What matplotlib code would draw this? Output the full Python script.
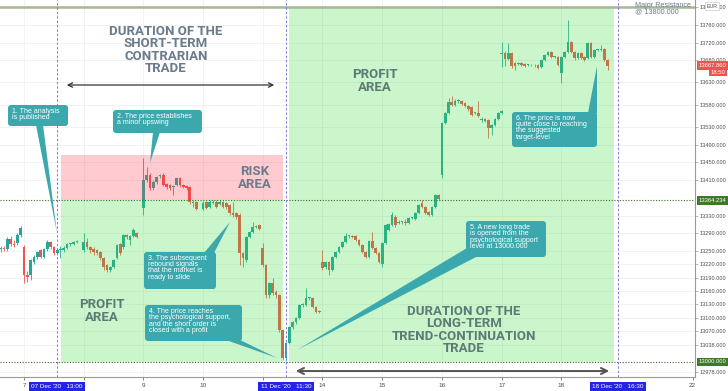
import matplotlib
matplotlib.use("Agg")
import numpy as np
import matplotlib.pyplot as plt
from matplotlib.patches import FancyBboxPatch, Polygon, Rectangle
from matplotlib.transforms import Affine2D

# Germany 30 (EUR), 30-minute candles, 4 Dec - 18 Dec 2020
opens = [
    13255, 13257, 13255, 13277, 13266, 13268, 13286,
    13259, 13196, 13196, 13226, 13237, 13252, 13237, 13255, 13271, 13259,
    13246, 13252, 13252, 13257, 13266, 13266, 13271,
    13252, 13271, 13259, 13255, 13252, 13248, 13235, 13219, 13208, 13214,
    13235, 13266, 13259, 13286, 13275, 13284, 13291,
    13347, 13410, 13422, 13392, 13406, 13420, 13422, 13401, 13399, 13395,
    13399, 13415, 13399, 13397, 13395, 13361, 13361,
    13345, 13361, 13350, 13359, 13361, 13356, 13361, 13359, 13354, 13336,
    13336, 13331, 13246, 13230, 13282, 13293, 13304, 13309,
    13257, 13219, 13151, 13178, 13158, 13151, 13072, 13009, 13043, 13079,
    13090, 13099, 13129, 13129, 13144, 13144, 13124, 13115,
    13226, 13214, 13226, 13208, 13237, 13248, 13259, 13271, 13284, 13284,
    13284, 13275, 13264, 13248, 13237, 13273, 13257, 13246,
    13221, 13268, 13298, 13309, 13327, 13313, 13316, 13316, 13313, 13325,
    13322, 13336, 13359, 13350, 13338, 13331, 13350, 13376,
    13422, 13539, 13561, 13586, 13579, 13588, 13588, 13584, 13577, 13575,
    13561, 13561, 13546, 13548, 13546, 13528, 13534, 13548, 13561,
    13695, 13697, 13683, 13697, 13674, 13672, 13674, 13672, 13670, 13670,
    13669, 13670, 13665, 13681, 13692, 13699, 13688, 13688,
    13651, 13688, 13699, 13721, 13699, 13685, 13697, 13688, 13685, 13719,
    13688, 13703, 13703, 13706, 13681,
]
highs = [
    13262, 13262, 13282, 13284, 13275, 13291, 13306,
    13264, 13205, 13232, 13241, 13250, 13255, 13257, 13275, 13273, 13262,
    13257, 13262, 13262, 13268, 13268, 13273, 13275,
    13291, 13280, 13262, 13259, 13255, 13250, 13237, 13221, 13217, 13232,
    13266, 13268, 13289, 13289, 13286, 13302, 13293,
    13460, 13440, 13426, 13410, 13420, 13424, 13426, 13404, 13401, 13399,
    13417, 13417, 13401, 13399, 13397, 13365, 13363,
    13363, 13363, 13365, 13365, 13365, 13365, 13363, 13361, 13356, 13361,
    13338, 13336, 13248, 13284, 13295, 13316, 13309, 13311,
    13268, 13221, 13180, 13189, 13162, 13153, 13075, 13045, 13081, 13093,
    13102, 13131, 13133, 13167, 13147, 13147, 13126, 13117,
    13252, 13228, 13228, 13239, 13250, 13262, 13273, 13291, 13286, 13286,
    13286, 13277, 13266, 13250, 13275, 13293, 13259, 13248,
    13271, 13311, 13313, 13338, 13331, 13320, 13318, 13322, 13327, 13327,
    13338, 13356, 13365, 13352, 13340, 13352, 13379, 13379,
    13541, 13564, 13595, 13600, 13593, 13593, 13591, 13586, 13579, 13577,
    13564, 13588, 13552, 13550, 13548, 13537, 13550, 13564, 13568,
    13721, 13701, 13719, 13699, 13676, 13676, 13676, 13674, 13672, 13672,
    13672, 13672, 13683, 13694, 13701, 13701, 13690, 13690,
    13690, 13701, 13771, 13724, 13701, 13699, 13699, 13690, 13721, 13721,
    13706, 13706, 13715, 13708, 13683,
]
lows = [
    13248, 13250, 13250, 13262, 13259, 13264, 13282,
    13178, 13180, 13185, 13221, 13232, 13235, 13235, 13250, 13255, 13241,
    13241, 13235, 13248, 13255, 13262, 13264, 13268,
    13248, 13255, 13246, 13241, 13241, 13230, 13208, 13203, 13203, 13212,
    13232, 13241, 13255, 13277, 13264, 13282, 13280,
    13331, 13406, 13388, 13388, 13401, 13415, 13397, 13390, 13388, 13376,
    13397, 13395, 13392, 13388, 13356, 13350, 13343,
    13343, 13345, 13347, 13356, 13347, 13354, 13347, 13345, 13331, 13327,
    13322, 13219, 13214, 13226, 13280, 13291, 13302, 13298,
    13214, 13144, 13144, 13151, 13144, 13068, 13005, 13002, 13040, 13075,
    13086, 13097, 13124, 13126, 13140, 13122, 13111, 13111,
    13208, 13210, 13196, 13205, 13235, 13246, 13257, 13268, 13280, 13280,
    13273, 13262, 13246, 13235, 13235, 13255, 13244, 13224,
    13214, 13266, 13295, 13306, 13304, 13311, 13311, 13309, 13311, 13322,
    13320, 13334, 13347, 13334, 13329, 13329, 13347, 13365,
    13415, 13537, 13559, 13577, 13577, 13584, 13579, 13575, 13566, 13555,
    13559, 13552, 13541, 13541, 13505, 13512, 13532, 13546, 13559,
    13665, 13667, 13681, 13663, 13658, 13670, 13667, 13665, 13667, 13667,
    13665, 13660, 13663, 13679, 13690, 13685, 13685, 13667,
    13629, 13685, 13697, 13697, 13681, 13683, 13683, 13679, 13683, 13685,
    13685, 13701, 13701, 13679, 13658,
]
closes = [
    13257, 13255, 13277, 13266, 13264, 13286, 13302,
    13196, 13192, 13230, 13237, 13248, 13237, 13255, 13271, 13259, 13246,
    13252, 13255, 13257, 13266, 13266, 13271, 13273,
    13271, 13259, 13252, 13248, 13246, 13235, 13214, 13208, 13214, 13230,
    13264, 13246, 13286, 13282, 13284, 13298, 13282,
    13410, 13422, 13392, 13406, 13417, 13421, 13399, 13395, 13392, 13396,
    13415, 13399, 13395, 13392, 13361, 13359, 13345,
    13359, 13347, 13361, 13361, 13350, 13361, 13350, 13350, 13336, 13331,
    13327, 13246, 13235, 13282, 13293, 13304, 13306, 13300,
    13219, 13151, 13178, 13156, 13151, 13072, 13009, 13043, 13079, 13090,
    13099, 13129, 13131, 13144, 13145, 13124, 13113, 13113,
    13212, 13226, 13208, 13237, 13248, 13259, 13271, 13284, 13285, 13282,
    13275, 13264, 13248, 13237, 13273, 13257, 13246, 13226,
    13268, 13309, 13311, 13331, 13309, 13316, 13317, 13313, 13325, 13326,
    13336, 13354, 13350, 13336, 13331, 13350, 13376, 13368,
    13539, 13561, 13586, 13579, 13588, 13589, 13582, 13577, 13570, 13557,
    13562, 13555, 13548, 13543, 13528, 13534, 13548, 13561, 13566,
    13697, 13683, 13697, 13667, 13667, 13674, 13670, 13667, 13671, 13669,
    13670, 13663, 13681, 13692, 13699, 13688, 13689, 13670,
    13688, 13699, 13721, 13699, 13685, 13697, 13685, 13681, 13719, 13688,
    13703, 13704, 13706, 13681, 13667.86,
]

# "11" is hidden behind the 11 Dec badge on the original
day_labels = ["7", "8", "9", "10", "", "14", "15", "16", "17", "18"]
day_first_bar = [7, 24, 41, 58, 76, 94, 112, 130, 149, 167]
bars_per_day = 18  # 30-min bars from 08:00

resistance = 13800.0
support = 13000.0
entry_level = 13364.234
last_price = 13667.86

price_ticks = [13800, 13760, 13720, 13680, 13630, 13580, 13530, 13490, 13450,
               13410, 13330, 13290, 13250, 13220, 13190, 13160, 13130, 13100,
               13070, 13038, 12978]

UP = "#26a69a"
DOWN = "#ef5350"
TEAL = "#3ba8ad"
GREY_TXT = "#6a7b8b"
GREEN_TXT = "#5e7a76"
W, H = 728, 391

plt.rcParams["font.family"] = ["Liberation Sans", "DejaVu Sans"]

step = 1.0 / bars_per_day


def bar_pos(i):
    d = sum(1 for f in day_first_bar if f <= i) - 1
    if d < 0:
        return (i - day_first_bar[0]) * step
    return d + (i - day_first_bar[d]) * step


def time_pos(day, hhmm):
    h, m = hhmm.split(":")
    return day + (int(h) - 8 + int(m) / 60) * 2 * step


o = np.array(opens)
c = np.array(closes)
x = np.array([bar_pos(i) for i in range(len(o))])
col = np.where(c >= o, UP, DOWN)

fig = plt.figure(figsize=(W / 100, H / 100), dpi=100)
ax = fig.add_axes([0, 14 / H, 695 / W, 377 / H])
px = Affine2D().scale(1, -1).translate(0, H)  # pixel coords, origin top-left

ax.set_xlim(-0.402, 11.24)
ax.set_ylim(12966, 13816)

# grid
for t in price_ticks:
    ax.axhline(t, color="#eef0f4", lw=0.6, zorder=0)
for d in range(len(day_labels)):
    ax.axvline(d, color="#eef0f4", lw=0.6, zorder=0)

# candles
ax.vlines(x, lows, highs, colors=col, lw=0.6, zorder=3)
ax.bar(x, np.maximum(np.abs(c - o), 1.5), bottom=np.minimum(o, c), width=0.045,
       color=col, linewidth=0, zorder=4)

# shaded areas drawn over the candles
t_short = time_pos(0, "13:00")
t_low = time_pos(4, "11:30")
t_end = time_pos(9, "16:30")
ax.add_patch(Rectangle((0.62, support), 4.34 - 0.62, entry_level - support,
                       fc="#33dd33", alpha=0.25, ec="none", zorder=5))
ax.add_patch(Rectangle((0.62, entry_level), 4.34 - 0.62, 103,
                       fc="#ff3344", alpha=0.25, ec="none", zorder=5))
ax.add_patch(Rectangle((4.44, support), 9.88 - 4.44, resistance - support,
                       fc="#33dd33", alpha=0.25, ec="none", zorder=5))

# levels
ax.axhline(resistance, color="#a8b596", lw=1.8, zorder=6)
ax.axhline(entry_level, color="#3c6e2a", lw=0.8, ls=(0, (1, 1.5)), zorder=6)
ax.axhline(support, color="#44603a", lw=0.8, ls=(0, (1, 1.5)), zorder=6)
for t in (t_short, t_low, t_end):
    ax.axvline(t, color="#7b7bd6", lw=0.7, ls=(0, (2.5, 2)), zorder=6)

# axes styling
ax.yaxis.tick_right()
ax.set_yticks(price_ticks)
ax.set_yticklabels([f"{t:.3f}" for t in price_ticks])
ax.set_xticks(list(range(len(day_labels))) + [11.2])
ax.set_xticklabels(day_labels + ["22"])
ax.tick_params(axis="x", labelsize=4.6, colors="#4d4d4d", length=2.5, width=0.5, pad=1.5)
ax.tick_params(axis="y", labelsize=4.1, labelcolor="#4d4d4d", color="#999999",
               length=2, width=0.5, pad=1)
for s in ("top", "left"):
    ax.spines[s].set_visible(False)
for s in ("right", "bottom"):
    ax.spines[s].set_color("#9a9a9a")
    ax.spines[s].set_linewidth(0.8)

# big labels
big = dict(transform=px, ha="center", va="center", fontsize=9.5, fontweight="bold",
           family="Roboto", linespacing=0.95, zorder=7)
ax.text(166, 50, "DURATION OF THE\nSHORT-TERM\nCONTRARIAN\nTRADE", color=GREY_TXT, **big)
ax.text(375, 81, "PROFIT\nAREA", color=GREEN_TXT, **big)
ax.text(255, 178, "RISK\nAREA", color=GREY_TXT, **big)
ax.text(102, 311, "PROFIT\nAREA", color=GREEN_TXT, **big)
ax.text(464, 330, "DURATION OF THE\nLONG-TERM\nTREND-CONTINUATION\nTRADE", color=GREEN_TXT, **big)
ax.text(635, 2, "Major Resistance\n@ 13800.000", transform=px, ha="left", va="top",
        fontsize=5.2, color=GREY_TXT, linespacing=0.9, zorder=7)

# duration arrows
ax.annotate("", xy=(277, 85), xytext=(64, 85), xycoords=px, textcoords=px,
            arrowprops=dict(arrowstyle="<->", lw=0.9, color="#333333", mutation_scale=8),
            zorder=7)
ax.annotate("", xy=(612, 371), xytext=(293, 371), xycoords=px, textcoords=px,
            arrowprops=dict(arrowstyle="<->", lw=1.4, color="#555555", mutation_scale=11),
            zorder=7, annotation_clip=False)


def callout(box, tail, text):
    x0, y0, x1, y1 = box
    ax.add_patch(FancyBboxPatch((x0, y0), x1 - x0, y1 - y0,
                                boxstyle="round,pad=0,rounding_size=3", transform=px,
                                fc=TEAL, ec="none", zorder=8, clip_on=False))
    ax.add_patch(Polygon(tail, closed=True, transform=px, fc=TEAL, ec="none",
                         zorder=8, clip_on=False))
    ax.text(x0 + 4, y0 + 3, text, transform=px, color="white", fontsize=5,
            ha="left", va="top", linespacing=0.85, zorder=9)


callout((8, 105, 68, 126), [(36, 125), (43, 125), (57, 233)],
        "1. The analysis\nis published")
callout((113, 110, 202, 133), [(153, 132), (160, 132), (150, 163)],
        "2. The price establishes\na minor upswing")
callout((144, 252, 216, 289), [(204, 253), (214, 253), (230, 222)],
        "3. The subsequent\nrebound signals\nthat the market is\nready to slide")
callout((145, 305, 242, 341), [(226, 340), (240, 340), (277, 358)],
        "4. The price reaches\nthe psychological support,\nand the short order is\nclosed with a profit")
callout((466, 221, 546, 257), [(467, 248), (478, 256), (297, 350)],
        "5. A new long trade\nis opened from the\npsychological support\nlevel at 13000.000")
callout((512, 112, 597, 147), [(588, 113), (597, 113), (597, 66)],
        "6. The price is now\nquite close to reaching\nthe suggested\ntarget-level")

# date badges on the time axis
for t, s in ((t_short, "07 Dec '20   13:00"), (t_low, "11 Dec '20   11:30"),
             (t_end, "18 Dec '20   16:30")):
    ax.text(t, -0.025, s, transform=ax.get_xaxis_transform(), ha="center", va="center",
            fontsize=4.6, color="white", zorder=20, clip_on=False,
            bbox=dict(boxstyle="square,pad=0.35", fc="#2424e6", ec="none"))

# price badges on the price axis
ytr = ax.get_yaxis_transform()
for val, fc in ((last_price, DOWN), (entry_level, "#3c7a2a"), (support, "#3c7a2a")):
    ax.text(1.005, val, f"{val:.3f}", transform=ytr, ha="left", va="center", fontsize=4.2,
            color="white", zorder=20, clip_on=False,
            bbox=dict(boxstyle="square,pad=0.3", fc=fc, ec="none"))
ax.text(725, 72, "18:50", transform=px, ha="right", va="center", fontsize=4.2,
        color="white", zorder=20,
        bbox=dict(boxstyle="square,pad=0.3", fc=DOWN, ec="none"))
ax.text(712, 6, "EUR", transform=px, ha="center", va="center", fontsize=3.8,
        color="#555555", zorder=20,
        bbox=dict(boxstyle="square,pad=0.25", fc="white", ec="#cccccc", lw=0.5))

fig.savefig("out.png", dpi=100)
